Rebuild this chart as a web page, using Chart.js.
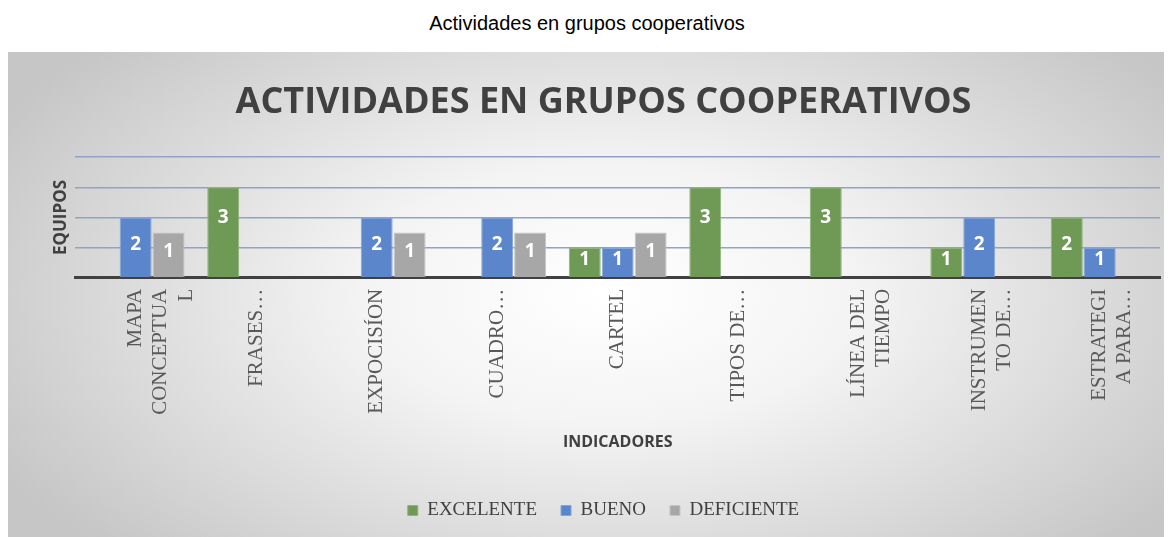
<!DOCTYPE html>
<html lang="es">
<head>
<meta charset="UTF-8">
<title>Actividades en grupos cooperativos</title>
<script src="https://cdn.jsdelivr.net/npm/chart.js"></script>
<style>
    body {
        margin: 0;
        background: #fff;
        width: 1174px;
        height: 537px;
        overflow: hidden;
        position: relative;
    }
    .outer-title {
        position: absolute;
        top: 12px;
        left: 0;
        width: 1174px;
        text-align: center;
        font-family: 'Liberation Sans', Arial, sans-serif;
        font-size: 20px;
        color: #000;
    }
    .box {
        position: absolute;
        left: 8px;
        top: 52px;
        width: 1156px;
        height: 485px;
        background: radial-gradient(ellipse 60% 75% at 52% 50%, #ffffff 0%, #f4f4f4 35%, #c6c6c6 100%);
    }
</style>
</head>
<body>
<div class="outer-title">Actividades en grupos cooperativos</div>
<div class="box"><canvas id="grafico" width="1156" height="485"></canvas></div>

<script>
    const categorias = [
        ['MAPA', 'CONCEPTUA', 'L'],
        'FRASES…',
        'EXPOCISÍON',
        'CUADRO…',
        'CARTEL',
        'TIPOS DE…',
        ['LÍNEA DEL', 'TIEMPO'],
        ['INSTRUMEN', 'TO DE…'],
        ['ESTRATEGI', 'A PARA…']
    ];
    const excelente = [0, 3, 0, 0, 1, 3, 3, 1, 2];
    const bueno = [2, 0, 2, 2, 1, 0, 0, 2, 1];
    // the grey bars are drawn taller than their label says
    const deficiente = [1.5, 0, 1.5, 1.5, 1.5, 0, 0, 0, 0];

    // white labels inside the bars
    const etiquetas = {
        id: 'etiquetas',
        afterDatasetsDraw(chart) {
            const ctx = chart.ctx;
            ctx.save();
            ctx.fillStyle = '#fff';
            ctx.font = 'bold 19px "Open Sans", sans-serif';
            ctx.textAlign = 'center';
            ctx.textBaseline = 'middle';
            chart.data.datasets.forEach((ds, i) => {
                chart.getDatasetMeta(i).data.forEach((bar, j) => {
                    const v = ds.data[j];
                    if (!v) return;
                    const centro = (bar.y + bar.base) / 2;
                    const y = Math.min(bar.y + 30, centro - 3);
                    ctx.fillText(String(Math.floor(v)), bar.x, y);
                });
            });
            ctx.restore();
        }
    };

    new Chart(document.getElementById('grafico'), {
        type: 'bar',
        data: {
            labels: categorias,
            datasets: [
                { label: 'EXCELENTE', data: excelente, backgroundColor: '#6f9a55', borderColor: '#8fb27a', borderWidth: 1 },
                { label: 'BUENO', data: bueno, backgroundColor: '#5b86cc', borderColor: '#84a5dc', borderWidth: 1 },
                { label: 'DEFICIENTE', data: deficiente, backgroundColor: '#a7a7a7', borderColor: '#c4c4c4', borderWidth: 1 }
            ]
        },
        options: {
            responsive: false,
            animation: false,
            categoryPercentage: 0.82,
            barPercentage: 0.97,
            layout: { padding: { left: 39, right: 4, top: 10, bottom: 7 } },
            plugins: {
                title: {
                    display: true,
                    text: 'ACTIVIDADES EN GRUPOS COOPERATIVOS',
                    color: '#404040',
                    font: { family: '"Open Sans", sans-serif', size: 36, weight: 'bold' },
                    padding: { top: 19, bottom: 33 }
                },
                legend: {
                    position: 'bottom',
                    labels: {
                        color: '#404040',
                        font: { family: '"Liberation Serif", "Times New Roman", serif', size: 19 },
                        boxWidth: 10,
                        boxHeight: 10,
                        padding: 24
                    }
                },
                tooltip: { enabled: false }
            },
            scales: {
                x: {
                    grid: { display: false },
                    border: { color: '#404040', width: 3 },
                    ticks: {
                        color: '#595959',
                        font: { family: '"Liberation Serif", "Times New Roman", serif', size: 21 },
                        minRotation: 90,
                        maxRotation: 90,
                        autoSkip: false
                    },
                    title: {
                        display: true,
                        text: 'INDICADORES',
                        color: '#404040',
                        font: { family: '"Open Sans", sans-serif', size: 16, weight: 'bold' },
                        padding: { top: 15, bottom: 25 }
                    }
                },
                y: {
                    min: 0,
                    max: 4,
                    ticks: { stepSize: 1, display: false },
                    grid: { color: '#8ea3c6', lineWidth: 1.5, drawTicks: false },
                    border: { display: false },
                    title: {
                        display: true,
                        text: 'EQUIPOS',
                        color: '#404040',
                        font: { family: '"Open Sans", sans-serif', size: 17, weight: 'bold' },
                        padding: 4
                    }
                }
            }
        },
        plugins: [etiquetas]
    });
</script>
</body>
</html>
